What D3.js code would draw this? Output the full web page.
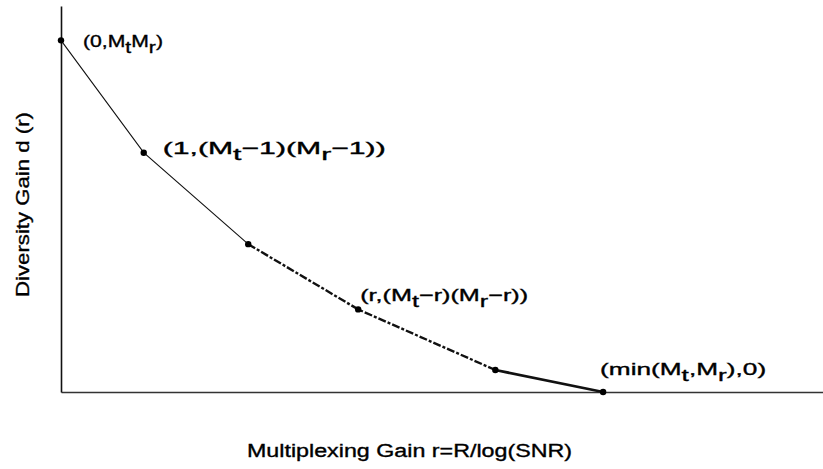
<!DOCTYPE html>
<html>
<head>
<meta charset="utf-8">
<script src="https://cdn.jsdelivr.net/npm/d3@7"></script>
<style>
	body { margin: 0; background: #fff; }
	text { font-family: "Liberation Sans", Arial, sans-serif; fill: #000; stroke: #000; stroke-width: 0.35; }
</style>
</head>
<body>
<div id="vis"></div>
<script>
// corner points of the diversity-multiplexing tradeoff (schematic)
var rVals = [0, 0.76, 1.72, 2.73, 3.99, 4.98];
var dVals = [9.11, 6.2, 3.83, 2.14, 0.57, 0];

// labels: [text, isSubscript]
var pointLabels = [
	{i: 0, parts: [["(0,M",0],["t",1],["M",0],["r",1],[")",0]]},
	{i: 1, parts: [["(1,(M",0],["t",1],["\u22121)(M",0],["r",1],["\u22121))",0]]},
	{i: 3, parts: [["(r,(M",0],["t",1],["\u2212r)(M",0],["r",1],["\u2212r))",0]]},
	{i: 5, parts: [["(min(M",0],["t",1],[",M",0],["r",1],["),0)",0]]}
];

var xTitle = "Multiplexing Gain r=R/log(SNR)";
var yTitle = "Diversity Gain d (r)";

var w = 823, h = 469;
var labelOffset = [[22, 7], [19, 1], [2, -8], [-3, -17]];
var labelLength = [80, 223, 168, 166];

var svg = d3.select("#vis").append("svg")
.attr("width", w)
.attr("height", h);

var x = d3.scaleLinear().domain([0, 7]).range([61, 823]);
var y = d3.scaleLinear().domain([0, 10]).range([392, 6]);

svg.append("g")
.attr("transform", "translate(0,392)")
.call(d3.axisBottom(x).ticks(0).tickSizeOuter(0))
.select(".domain").attr("stroke", "#333").attr("stroke-width", 1.6);

svg.append("g")
.attr("transform", "translate(61,0)")
.call(d3.axisLeft(y).ticks(0).tickSizeOuter(0))
.select(".domain").attr("stroke", "#111").attr("stroke-width", 1.6);

var pts = rVals.map(function (r, i) { return {r: r, d: dVals[i]}; });

var line = d3.line()
.x(function (p) { return x(p.r); })
.y(function (p) { return y(p.d); });

// thin solid start, heavier broken middle, heavy end
svg.append("path").datum(pts.slice(0, 3))
.attr("d", line).attr("fill", "none").attr("stroke", "#111").attr("stroke-width", 1.1);
svg.append("path").datum(pts.slice(2, 5))
.attr("d", line).attr("fill", "none").attr("stroke", "#111").attr("stroke-width", 2.4)
.attr("stroke-dasharray", "8,2,3,2");
svg.append("path").datum(pts.slice(4, 6))
.attr("d", line).attr("fill", "none").attr("stroke", "#111").attr("stroke-width", 2.8);

svg.selectAll(".mark")
.data(pts)
.enter()
.append("circle")
.attr("class", "mark")
.attr("cx", function (p) { return x(p.r); })
.attr("cy", function (p) { return y(p.d); })
.attr("r", 3.2)
.attr("fill", "#000");

pointLabels.forEach(function (lab, k) {
	var t = svg.append("text")
	.attr("x", x(rVals[lab.i]) + labelOffset[k][0])
	.attr("y", y(dVals[lab.i]) + labelOffset[k][1])
	.attr("font-size", 17)
	.attr("textLength", labelLength[k])
	.attr("lengthAdjust", "spacingAndGlyphs");
	lab.parts.forEach(function (p, j) {
		var prev = j > 0 ? lab.parts[j - 1][1] : 0;
		var dy = p[1] && !prev ? 6 : (!p[1] && prev ? -6 : 0);
		t.append("tspan").attr("dy", dy).text(p[0]);
	});
});

svg.append("text")
.attr("x", 247)
.attr("y", 457)
.attr("font-size", 18)
.attr("textLength", 325)
.attr("lengthAdjust", "spacingAndGlyphs")
.text(xTitle);

svg.append("text")
.attr("transform", "translate(29,297) rotate(-90)")
.attr("font-size", 18)
.attr("textLength", 185)
.attr("lengthAdjust", "spacingAndGlyphs")
.text(yTitle);
</script>
</body>
</html>
